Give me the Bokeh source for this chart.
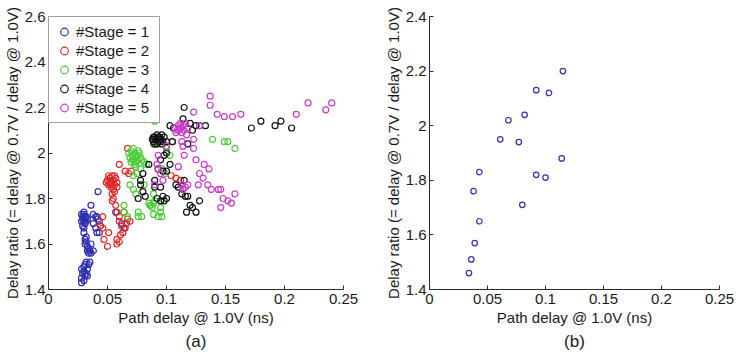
from bokeh.plotting import figure
from bokeh.layouts import row
from bokeh.models import Range1d, FixedTicker, CustomJSTickFormatter, Title
from bokeh.embed import file_html
from bokeh.resources import INLINE

# ---------------- data: panel (a) ----------------
stage_labels = ["#Stage = 1", "#Stage = 2", "#Stage = 3", "#Stage = 4", "#Stage = 5"]
stage_colors = ["#2e2eb0", "#e02828", "#4fcc3c", "#111111", "#c83cc8"]

x1 = [0.028, 0.029, 0.030, 0.031, 0.029, 0.030, 0.031, 0.032, 0.030, 0.028, 0.031, 0.029, 0.030, 0.032, 0.033,
      0.030, 0.031, 0.031, 0.032, 0.033, 0.034, 0.034, 0.035, 0.036, 0.033, 0.032,
      0.028, 0.028, 0.029, 0.028, 0.030, 0.031, 0.032, 0.030, 0.031, 0.033, 0.034, 0.035, 0.030, 0.032, 0.033,
      0.036, 0.038, 0.040, 0.041, 0.042, 0.043, 0.044, 0.038, 0.040, 0.043, 0.042, 0.038, 0.036, 0.041,
      0.057, 0.062, 0.064]
y1 = [1.73, 1.72, 1.73, 1.72, 1.71, 1.70, 1.71, 1.72, 1.74, 1.70, 1.69, 1.68, 1.67, 1.70, 1.71,
      1.65, 1.62, 1.60, 1.61, 1.59, 1.58, 1.56, 1.57, 1.56, 1.57, 1.63,
      1.43, 1.45, 1.47, 1.49, 1.50, 1.51, 1.52, 1.48, 1.46, 1.49, 1.51, 1.52, 1.44, 1.47, 1.46,
      1.77, 1.73, 1.72, 1.72, 1.71, 1.70, 1.68, 1.69, 1.67, 1.65, 1.83, 1.57, 1.60, 1.65,
      1.74, 1.69, 1.67]

x2 = [0.050, 0.051, 0.052, 0.053, 0.054, 0.055, 0.056, 0.057, 0.053, 0.055, 0.058, 0.052, 0.054, 0.056, 0.051, 0.058, 0.049,
      0.067, 0.060, 0.065, 0.068, 0.054, 0.054, 0.046, 0.046, 0.047, 0.050, 0.051, 0.058, 0.058, 0.061, 0.062, 0.065,
      0.067, 0.058, 0.060, 0.064, 0.057, 0.044, 0.060, 0.066, 0.063, 0.069, 0.104, 0.108, 0.112, 0.060, 0.055, 0.056, 0.070]
y2 = [1.88, 1.86, 1.89, 1.87, 1.90, 1.88, 1.86, 1.89, 1.85, 1.84, 1.87, 1.87, 1.86, 1.90, 1.90, 1.85, 1.87,
      2.02, 1.95, 1.92, 1.91, 1.82, 1.79, 1.72, 1.67, 1.62, 1.59, 1.65, 1.62, 1.60, 1.64, 1.68, 1.67,
      1.71, 1.74, 1.72, 1.74, 1.77, 1.68, 1.70, 1.69, 1.65, 1.70, 1.90, 1.89, 1.88, 1.61, 1.80, 1.83, 1.92]

x3 = [0.068, 0.069, 0.070, 0.071, 0.072, 0.073, 0.074, 0.075, 0.076, 0.077, 0.078, 0.070, 0.072, 0.074, 0.076, 0.079, 0.071, 0.073,
      0.090, 0.089, 0.081, 0.074, 0.075, 0.072, 0.069, 0.072, 0.081, 0.074, 0.089, 0.085, 0.089, 0.086, 0.090, 0.095,
      0.076, 0.064, 0.064, 0.067, 0.076, 0.079, 0.089, 0.093, 0.096, 0.095, 0.099, 0.096, 0.100, 0.103,
      0.139, 0.149, 0.152, 0.158, 0.105, 0.087, 0.088, 0.078, 0.083]
y3 = [2.00, 1.98, 2.01, 1.99, 1.97, 2.00, 1.98, 1.99, 1.97, 2.00, 1.98, 1.96, 2.02, 1.96, 2.01, 1.97, 1.97, 1.95,
      2.14, 2.04, 1.96, 1.94, 1.91, 1.90, 1.86, 1.84, 1.86, 1.82, 1.82, 1.78, 1.78, 1.77, 1.79, 1.76,
      1.74, 1.77, 1.74, 1.72, 1.72, 1.72, 1.73, 1.72, 1.72, 1.74, 1.91, 1.93, 2.02, 1.99,
      2.06, 2.05, 2.05, 2.02, 2.05, 1.77, 1.76, 1.93, 1.95]

x4 = [0.088, 0.089, 0.090, 0.091, 0.092, 0.093, 0.094, 0.095, 0.096, 0.097, 0.098, 0.090, 0.092, 0.094, 0.089, 0.096,
      0.115, 0.114, 0.120, 0.125, 0.128, 0.133, 0.122, 0.172, 0.180, 0.192, 0.197, 0.206, 0.103, 0.106, 0.100, 0.105,
      0.085, 0.093, 0.097, 0.100, 0.095, 0.090, 0.078, 0.080, 0.078, 0.080, 0.082, 0.076, 0.090, 0.095, 0.092, 0.095,
      0.098, 0.097, 0.100, 0.110, 0.108, 0.113, 0.116, 0.115, 0.118, 0.117, 0.120, 0.122, 0.125, 0.128, 0.100, 0.103,
      0.098, 0.118]
y4 = [2.06, 2.05, 2.07, 2.06, 2.04, 2.07, 2.05, 2.06, 2.08, 2.05, 2.07, 2.04, 2.08, 2.07, 2.07, 2.04,
      2.20, 2.15, 2.13, 2.12, 2.12, 2.12, 2.10, 2.11, 2.14, 2.12, 2.14, 2.11, 2.12, 2.11, 2.05, 2.05,
      1.95, 1.93, 1.92, 1.92, 1.97, 1.88, 1.88, 1.91, 1.86, 1.83, 1.81, 1.80, 1.85, 1.85, 1.80, 1.79,
      1.79, 1.81, 1.80, 1.85, 1.86, 1.82, 1.81, 1.88, 1.81, 1.74, 1.77, 1.76, 1.74, 1.79, 2.00, 1.95,
      1.99, 2.04]

x5 = [0.137, 0.137, 0.123, 0.143, 0.149, 0.156, 0.163, 0.128, 0.210, 0.220, 0.235, 0.240,
      0.107, 0.108, 0.110, 0.111, 0.112, 0.113, 0.114, 0.115, 0.116, 0.118, 0.109, 0.112, 0.117,
      0.123, 0.113, 0.123, 0.114, 0.100, 0.093, 0.092, 0.093, 0.095, 0.090, 0.097, 0.110, 0.115, 0.125,
      0.132, 0.128, 0.131, 0.136, 0.127, 0.118, 0.113, 0.135, 0.138, 0.144, 0.146, 0.148, 0.152, 0.155,
      0.158, 0.146, 0.116, 0.114]
y5 = [2.25, 2.21, 2.18, 2.17, 2.16, 2.16, 2.17, 2.12, 2.17, 2.22, 2.19, 2.22,
      2.11, 2.09, 2.12, 2.10, 2.11, 2.09, 2.12, 2.10, 2.13, 2.11, 2.10, 2.13, 2.08,
      2.06, 2.05, 2.02, 2.03, 2.03, 1.99, 1.95, 1.93, 1.91, 1.86, 1.88, 1.94, 1.99, 1.97,
      1.95, 1.91, 1.89, 1.93, 1.86, 1.86, 1.86, 1.86, 1.84, 1.84, 1.84, 1.80, 1.79, 1.78,
      1.82, 1.76, 1.85, 1.84]

# ---------------- data: panel (b) ----------------
xb = [0.034, 0.036, 0.039, 0.043, 0.038, 0.043, 0.061, 0.068, 0.077, 0.082, 0.080,
      0.092, 0.092, 0.100, 0.103, 0.115, 0.114]
yb = [1.46, 1.51, 1.57, 1.65, 1.76, 1.83, 1.95, 2.02, 1.94, 2.04, 1.71,
      2.13, 1.82, 1.81, 2.12, 2.20, 1.88]

x_ticks = [0, 0.05, 0.1, 0.15, 0.2, 0.25]
ya_ticks = [1.4, 1.6, 1.8, 2.0, 2.2, 2.4, 2.6]
yb_ticks = [1.4, 1.6, 1.8, 2.0, 2.2, 2.4]

x_label = "Path delay @ 1.0V (ns)"
y_label = "Delay ratio (= delay @ 0.7V / delay @ 1.0V)"

FONT = "Liberation Sans"
TXT = "#1a1a1a"
AXC = "#2a2a2a"


def style(p, yticks):
    fmt = "return String(Math.round(tick*100)/100);"
    p.xaxis.ticker = FixedTicker(ticks=x_ticks)
    p.yaxis.ticker = FixedTicker(ticks=yticks)
    for ax in (p.xaxis[0], p.yaxis[0]):
        ax.formatter = CustomJSTickFormatter(code=fmt)
        ax.major_tick_in = 4
        ax.major_tick_out = 0
        ax.minor_tick_line_color = None
        ax.axis_line_color = AXC
        ax.major_tick_line_color = AXC
        ax.major_label_text_font = FONT
        ax.major_label_text_font_size = "15px"
        ax.major_label_text_color = TXT
        ax.axis_label_text_font = FONT
        ax.axis_label_text_font_size = "15px"
        ax.axis_label_text_font_style = "normal"
        ax.axis_label_text_color = TXT
    p.xaxis.axis_label = x_label
    p.yaxis.axis_label = y_label
    p.xaxis.major_label_standoff = 4
    p.xaxis.axis_label_standoff = 2
    p.yaxis.major_label_standoff = 3
    p.yaxis.axis_label_standoff = 1
    p.grid.visible = False
    p.outline_line_color = None


pa = figure(width=368, height=359, output_backend="svg", toolbar_location=None,
            x_range=Range1d(0, 0.25), y_range=Range1d(1.4, 2.6),
            min_border_left=46, min_border_right=25, min_border_top=11, min_border_bottom=67)
style(pa, ya_ticks)

series = [(x1, y1), (x2, y2), (x3, y3), (x4, y4), (x5, y5)]
for (xs, ys), lab, col in zip(series, stage_labels, stage_colors):
    pa.scatter(xs, ys, marker="circle", size=6, fill_color=None, line_color=col,
               line_width=1.2, legend_label=lab)

lg = pa.legend[0]
lg.location = "top_left"
lg.margin = 0
lg.padding = 5
lg.spacing = 0
lg.glyph_width = 20
lg.glyph_height = 19
lg.label_height = 19
lg.label_width = 78
lg.label_standoff = 2
lg.label_text_font = FONT
lg.label_text_font_size = "15px"
lg.label_text_color = TXT
lg.border_line_color = "#444444"
lg.border_line_width = 1
lg.background_fill_alpha = 1.0

pa.add_layout(Title(text="(a)", align="center", text_font=FONT, text_font_size="17px",
                    text_font_style="normal", text_color=TXT, standoff=3), "below")

pb = figure(width=370, height=359, output_backend="svg", toolbar_location=None,
            x_range=Range1d(0, 0.25), y_range=Range1d(1.4, 2.4),
            min_border_left=61, min_border_right=19, min_border_top=16, min_border_bottom=70)
style(pb, yb_ticks)
pb.scatter(xb, yb, marker="circle", size=5.5, fill_color=None, line_color="#3333aa", line_width=1.2)
pb.add_layout(Title(text="(b)", align="center", text_font=FONT, text_font_size="17px",
                    text_font_style="normal", text_color=TXT, standoff=3), "below")

layout = row(pa, pb)
open("out.html", "w").write(file_html(layout, INLINE))
